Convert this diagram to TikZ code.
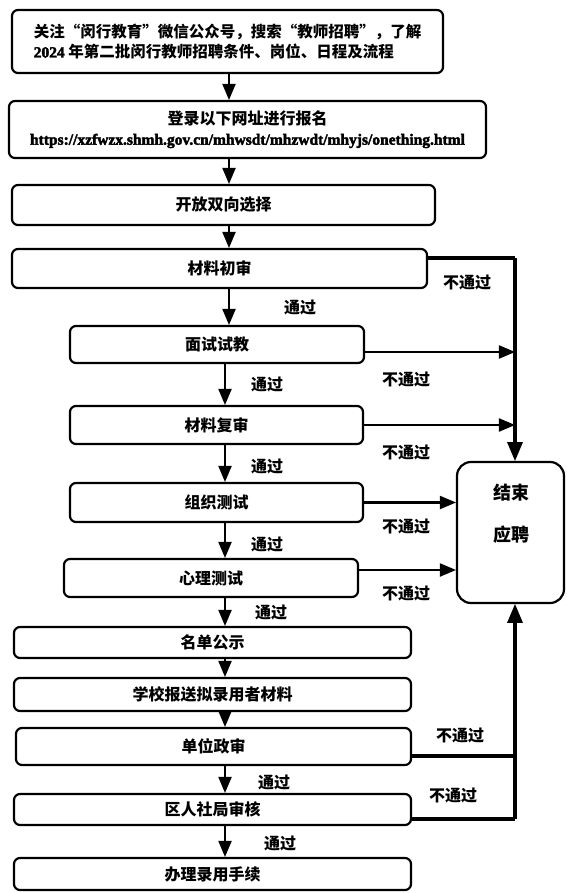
\documentclass[tikz,border=0pt]{standalone}
\usepackage{fontspec}
\setmainfont{Noto Sans CJK SC}
\newfontfamily\tnr{Liberation Serif}[FakeBold=2.5]
\usetikzlibrary{calc, arrows, positioning}

\begin{document}
\begin{tikzpicture}[x=1pt, y=-1pt,
  box/.style={draw, rounded corners=6pt, line width=2.2pt, inner sep=0pt, align=center, font=\bfseries\fontsize{16}{20}\selectfont},
  arr/.style={-triangle 45, line width=2.8pt},
  rail/.style={line width=3.5pt},
  lbl/.style={font=\bfseries\fontsize{16}{20}\selectfont, inner sep=1pt}]
  \useasboundingbox (0,0) rectangle (566,893);

  \node[box, minimum width=431pt, minimum height=63pt, align=left, font=\bfseries\fontsize{15.5}{20}\selectfont] (s1) at (227.5,41.5) {关注“闵行教育”微信公众号，搜索“教师招聘”，了解\\{\tnr 2024} 年第二批闵行教师招聘条件、岗位、日程及流程};
  \node[box, minimum width=477pt, minimum height=57pt] (s2) at (247.5,129.5) {登录以下网址进行报名\\{\tnr\fontsize{15.5}{20}\selectfont https://xzfwzx.shmh.gov.cn/mhwsdt/mhzwdt/mhyjs/onething.html}};
  \node[box, minimum width=423pt, minimum height=40pt] (s3) at (223.5,205) {开放双向选择};
  \node[box, minimum width=415pt, minimum height=39pt] (s4) at (219.5,268.5) {材料初审};
  \node[box, minimum width=294pt, minimum height=37pt] (s5) at (217,344.5) {面试试教};
  \node[box, minimum width=293pt, minimum height=38pt] (s6) at (216.5,425) {材料复审};
  \node[box, minimum width=293pt, minimum height=39pt] (s7) at (216.5,502.5) {组织测试};
  \node[box, minimum width=294pt, minimum height=38pt] (s8) at (211,578) {心理测试};
  \node[box, minimum width=397pt, minimum height=31pt] (s9) at (212.5,642.5) {名单公示};
  \node[box, minimum width=397pt, minimum height=33pt] (s10) at (212.5,694.5) {学校报送拟录用者材料};
  \node[box, minimum width=395pt, minimum height=37pt] (s11) at (213.5,746.5) {单位政审};
  \node[box, minimum width=397pt, minimum height=31pt] (s12) at (212.5,809.5) {区人社局审核};
  \node[box, minimum width=397pt, minimum height=32pt] (s13) at (212.5,874) {办理录用手续};

  \node[box, rounded corners=14pt, minimum width=107pt, minimum height=141pt] (done) at (510.5,532.5) {};
  \node[lbl, align=center, font=\bfseries\fontsize{18}{42}\selectfont] (donetxt) at (511,514) {结束\\应聘};

  \coordinate (upper) at (229,0);
  \coordinate (lower) at (225,0);
  \coordinate (corner) at (515,258);

  % main line
  \draw[arr] (s1.south -| upper) -- (s2.north -| upper);
  \draw[arr] (s2.south -| upper) -- (s3.north -| upper);
  \draw[arr] (s3.south -| upper) -- (s4.north -| upper);
  \draw[arr] (s4.south -| upper) -- (s5.north -| upper);
  \draw[arr] (s5.south -| lower) -- (s6.north -| lower);
  \draw[arr] (s6.south -| lower) -- (s7.north -| lower);
  \draw[arr] (s7.south -| lower) -- (s8.north -| lower);
  \draw[arr] (s8.south -| lower) -- (s9.north -| lower);
  \draw[arr] (s9.south -| lower) -- (s10.north -| lower);
  \draw[arr] (s10.south -| lower) -- (s11.north -| lower);
  \draw[arr] (s11.south -| lower) -- (s12.north -| lower);
  \draw[arr] (s12.south -| lower) -- (s13.north -| lower);

  % failures
  \draw[rail] ([yshift=10.5pt]s4.east) -- (corner);
  \draw[rail, -triangle 45] (corner) -- (corner |- done.north);
  \draw[arr] ([yshift=-7.5pt]s5.east) -- ([yshift=-7.5pt]s5.east -| corner);
  \draw[arr] (s6.east) -- (s6.east -| corner);
  \draw[arr] (s7.east) -- (s7.east -| done.west);
  \draw[arr] ([yshift=8pt]s8.east) -- ([yshift=8pt]s8.east -| done.west);
  \draw[rail] ([yshift=-9.5pt]s11.east) -- ([yshift=-9.5pt]s11.east -| corner);
  \draw[rail] ([yshift=-9.5pt]s12.east) -- ([yshift=-9.5pt]s12.east -| corner);
  \draw[rail, -triangle 45] ([yshift=-9.5pt]s12.east -| corner) -- (corner |- done.south);

  \node[lbl] (p1) at (300,308) {通过};
  \node[lbl] (p2) at (267,385) {通过};
  \node[lbl] (p3) at (267,467) {通过};
  \node[lbl] (p4) at (267,545) {通过};
  \node[lbl] (p5) at (271,613) {通过};
  \node[lbl] (p6) at (274,782) {通过};
  \node[lbl] (p7) at (280,843) {通过};

  \node[lbl] (f1) at (467,283) {不通过};
  \node[lbl] (f2) at (406,380) {不通过};
  \node[lbl] (f3) at (406,453) {不通过};
  \node[lbl] (f4) at (406,527) {不通过};
  \node[lbl] (f5) at (406,594) {不通过};
  \node[lbl] (f6) at (460,735) {不通过};
  \node[lbl] (f7) at (453,795) {不通过};
\end{tikzpicture}
\end{document}
